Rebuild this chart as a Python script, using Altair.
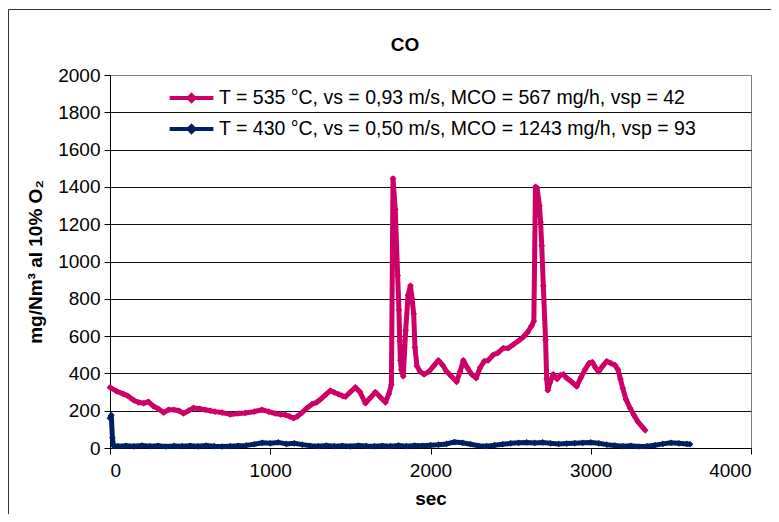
import altair as alt
import pandas as pd

# ---- data ----
label_a = "T = 535 °C, vs = 0,93 m/s, MCO = 567 mg/h, vsp = 42"
label_b = "T = 430 °C, vs = 0,50 m/s, MCO = 1243 mg/h, vsp = 93"
chart_title = "CO"

t_a = [0, 40, 83, 110, 150, 177, 210, 240, 270, 302, 335, 365, 400, 430, 458, 490,
       521, 560, 594, 625, 656, 700, 750, 800, 844, 900, 948, 990, 1031, 1065, 1094,
       1120, 1146, 1170, 1198, 1230, 1260, 1290, 1312, 1345, 1375, 1400, 1427, 1450,
       1469, 1500, 1531, 1560, 1594, 1625, 1656, 1690, 1719, 1740, 1756, 1766, 1780,
       1795, 1803, 1808, 1812, 1818, 1830, 1845, 1860, 1875, 1885, 1895, 1903, 1915,
       1935, 1960, 1990, 2020, 2049, 2075, 2101, 2130, 2163, 2185, 2205, 2230, 2257,
       2285, 2309, 2335, 2360, 2392, 2420, 2454, 2485, 2517, 2550, 2579, 2605, 2631,
       2645, 2655, 2665, 2680, 2687, 2694, 2704, 2718, 2725, 2732, 2745, 2766, 2790,
       2810, 2829, 2850, 2880, 2912, 2940, 2964, 2990, 3010, 3030, 3050, 3075, 3100,
       3125, 3150, 3170, 3185, 3200, 3220, 3245, 3270, 3295, 3320, 3340]
v_a = [325, 305, 290, 280, 255, 245, 240, 248, 225, 210, 190, 205, 205, 200, 185, 200,
       215, 210, 205, 200, 195, 190, 180, 185, 188, 195, 205, 195, 185, 180, 178,
       170, 160, 170, 190, 215, 235, 245, 260, 285, 308, 298, 288, 280,
       275, 300, 325, 300, 240, 270, 300, 270, 245, 290, 340, 1445, 1280,
       925, 740, 575, 470, 420, 385, 630, 820, 870, 800, 720, 540, 440,
       410, 395, 410, 440, 470, 445, 410, 385, 355, 410, 470, 430, 395,
       375, 430, 465, 470, 500, 510, 535, 535, 555, 575, 595, 620, 655,
       680, 1400, 1395, 1300, 1210, 1085, 870, 580, 370, 310, 350, 395, 370,
       390, 395, 375, 355, 330, 380, 420, 455, 460, 430, 410, 440, 465,
       455, 445, 420, 370, 320, 260, 215, 175, 140, 115, 95]

t_b = [0, 8, 15, 22, 50, 100, 150, 200, 250, 300, 350, 400, 450, 500, 550, 600, 650,
       700, 750, 800, 850, 900, 950, 1000, 1050, 1100, 1150, 1200, 1250, 1300, 1350,
       1400, 1450, 1500, 1550, 1600, 1650, 1700, 1750, 1800, 1850, 1900, 1950, 2000,
       2050, 2100, 2150, 2200, 2250, 2300, 2350, 2400, 2450, 2500, 2550, 2600, 2650,
       2700, 2750, 2800, 2850, 2900, 2950, 3000, 3050, 3100, 3150, 3200, 3250, 3300,
       3350, 3400, 3450, 3500, 3550, 3600, 3620]
v_b = [160, 175, 55, 12, 10, 12, 9, 13, 10, 12, 8, 11, 10, 12, 9, 13, 10,
       8, 10, 12, 14, 20, 28, 25, 30, 22, 25, 18, 12, 10, 13,
       10, 12, 9, 13, 11, 10, 12, 10, 14, 10, 13, 12, 15,
       18, 22, 32, 28, 20, 12, 10, 15, 20, 25, 28, 30, 27,
       30, 25, 22, 24, 26, 28, 30, 25, 18, 14, 10, 12, 8,
       10, 15, 22, 28, 25, 22, 20]

x_ticks = [0, 1000, 2000, 3000, 4000]
y_ticks = [0, 200, 400, 600, 800, 1000, 1200, 1400, 1600, 1800, 2000]

series_names = [label_a, label_b]
series_colors = ["#CC0066", "#002060"]

df = pd.concat([
    pd.DataFrame({"t": t_a, "v": v_a, "serie": label_a, "k": 0}),
    pd.DataFrame({"t": t_b, "v": v_b, "serie": label_b, "k": 1}),
])

FONT = "Liberation Sans"

lines = alt.Chart(df).mark_line(
    strokeWidth=5, strokeJoin="round",
    point=alt.OverlayMarkDef(shape="diamond", size=45, filled=True),
).encode(
    x=alt.X("t:Q", scale=alt.Scale(domain=[0, 4000], nice=False),
            axis=alt.Axis(values=x_ticks, title="sec", grid=False, tickSize=6,
                          labelPadding=7, titlePadding=9, format="d")),
    y=alt.Y("v:Q", scale=alt.Scale(domain=[0, 2000], nice=False),
            axis=alt.Axis(values=y_ticks, title="mg/Nm³ al 10% O₂", grid=True,
                          tickSize=6, labelPadding=4, titlePadding=12, format="d",
                          gridColor=alt.condition(alt.datum.value == 2000,
                                                  alt.value("#808080"),
                                                  alt.value("#111111")))),
    color=alt.Color("serie:N",
                    scale=alt.Scale(domain=series_names, range=series_colors),
                    legend=alt.Legend(
                        title=None, orient="none", legendX=62, legendY=3.5,
                        symbolType="M-1.25,0L1.25,0M0,-0.16L0.16,0L0,0.16L-0.16,0Z",
                        symbolSize=1225, symbolStrokeWidth=4, labelOffset=8,
                        labelFontSize=19.5, labelFont=FONT, labelColor="black",
                        labelLimit=900, rowPadding=0, padding=0)),
    order=alt.Order("k:Q"),
    detail="serie:N",
)

frame = alt.Chart(pd.DataFrame({"a": [0]})).mark_rect(
    fill=None, stroke="#333333", strokeWidth=1
).encode(
    x=alt.value(-101.5), x2=alt.value(700), y=alt.value(-65.5), y2=alt.value(480)
)

title_text = alt.Chart(pd.DataFrame({"txt": [chart_title]})).mark_text(
    font=FONT, fontSize=19, fontWeight="bold", color="black",
    align="center", baseline="middle"
).encode(
    text="txt:N", x=alt.value(295), y=alt.value(-30)
)

chart = alt.layer(frame, lines, title_text).properties(
    width=641, height=373,
    autosize=alt.AutoSizeParams(type="none"),
    padding={"left": 102, "top": 67, "right": 20, "bottom": 66},
).configure_view(
    stroke="#808080", strokeWidth=1
).configure_axis(
    labelFont=FONT, titleFont=FONT, labelFontSize=19, titleFontSize=19,
    labelColor="black", titleColor="black", titleFontWeight="bold",
    domainColor="black", tickColor="black", domainWidth=1, tickWidth=1,
    gridWidth=1, gridOpacity=1
)

chart.save("out.html", embed_options={"renderer": "svg", "actions": False})
